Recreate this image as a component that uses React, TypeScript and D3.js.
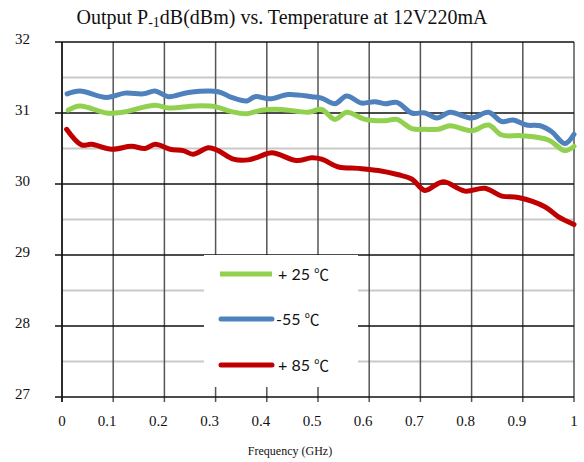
import React from "react";
import * as d3 from "d3";

// Frequency (GHz) and output P-1dB (dBm) per temperature
const freqM55 = [0.01, 0.035, 0.087, 0.123, 0.159, 0.182, 0.208, 0.247, 0.305, 0.331, 0.361, 0.377, 0.406, 0.442, 0.488, 0.507, 0.533, 0.556, 0.585, 0.611, 0.631, 0.654, 0.683, 0.709, 0.732, 0.758, 0.8, 0.833, 0.859, 0.881, 0.907, 0.934, 0.956, 0.982, 1.0];
const p1dbM55 = [31.27, 31.31, 31.22, 31.28, 31.27, 31.31, 31.23, 31.29, 31.3, 31.22, 31.17, 31.23, 31.2, 31.26, 31.23, 31.21, 31.13, 31.24, 31.14, 31.16, 31.13, 31.15, 31.0, 31.0, 30.93, 31.01, 30.93, 31.01, 30.88, 30.9, 30.83, 30.82, 30.74, 30.57, 30.7];

const freqP25 = [0.012, 0.035, 0.087, 0.117, 0.182, 0.208, 0.26, 0.299, 0.331, 0.361, 0.39, 0.429, 0.481, 0.507, 0.533, 0.556, 0.592, 0.631, 0.654, 0.683, 0.709, 0.735, 0.758, 0.8, 0.833, 0.859, 0.898, 0.95, 0.982, 1.0];
const p1dbP25 = [31.04, 31.1, 31.0, 31.01, 31.11, 31.07, 31.1, 31.09, 31.02, 30.99, 31.04, 31.05, 31.01, 31.05, 30.91, 31.01, 30.91, 30.89, 30.91, 30.78, 30.77, 30.77, 30.82, 30.75, 30.83, 30.69, 30.68, 30.62, 30.47, 30.53];

const freqP85 = [0.009, 0.038, 0.058, 0.097, 0.136, 0.162, 0.182, 0.211, 0.237, 0.256, 0.286, 0.305, 0.335, 0.364, 0.383, 0.41, 0.458, 0.488, 0.507, 0.54, 0.579, 0.618, 0.657, 0.683, 0.709, 0.735, 0.748, 0.787, 0.826, 0.859, 0.891, 0.943, 0.969, 1.0];
const p1dbP85 = [30.77, 30.55, 30.56, 30.49, 30.53, 30.5, 30.56, 30.49, 30.47, 30.42, 30.51, 30.47, 30.35, 30.34, 30.38, 30.44, 30.33, 30.37, 30.35, 30.24, 30.22, 30.19, 30.13, 30.07, 29.91, 30.01, 30.03, 29.9, 29.94, 29.83, 29.81, 29.68, 29.54, 29.43];

const xTicks = [0, 0.1, 0.2, 0.3, 0.4, 0.5, 0.6, 0.7, 0.8, 0.9, 1];
const xTickLabels = ["0", "0.1", "0.2", "0.3", "0.4", "0.5", "0.6", "0.7", "0.8", "0.9", "1"];
const yTicks = [27, 28, 29, 30, 31, 32];
const yMinor = [27.5, 28.5, 29.5, 30.5, 31.5];

const legendTemps = ["+ 25 ", "-55 ", "+ 85 "];
const legendUnit = "℃";

const W = 584;
const H = 462;
const plot = { left: 62, right: 574, top: 42, bottom: 397 };

export default function App() {
  const x = d3.scaleLinear().domain([0, 1]).range([plot.left, plot.right]);
  const y = d3.scaleLinear().domain([27, 32]).range([plot.bottom, plot.top]);

  const line = d3
    .line<[number, number]>()
    .x((d) => x(d[0]))
    .y((d) => y(d[1]))
    .curve(d3.curveCatmullRom.alpha(0.5));

  const series = [
    { name: "m55", color: "#4F81BD", pts: freqM55.map((f, i) => [f, p1dbM55[i]] as [number, number]) },
    { name: "p25", color: "#92D050", pts: freqP25.map((f, i) => [f, p1dbP25[i]] as [number, number]) },
    { name: "p85", color: "#C00000", pts: freqP85.map((f, i) => [f, p1dbP85[i]] as [number, number]) },
  ];

  const legendItems = [
    { label: legendTemps[0], color: "#92D050", cap: "butt", y: 274 },
    { label: legendTemps[1], color: "#4F81BD", cap: "round", y: 319 },
    { label: legendTemps[2], color: "#C00000", cap: "round", y: 365 },
  ];

  const serif = "'Liberation Serif', 'DejaVu Serif', serif";

  return (
    <svg width={W} height={H} style={{ position: "absolute", left: 0, top: 0, background: "#fff" }}>
      <rect x={0} y={0} width={W} height={H} fill="#fff" />
      {/* title */}
      <text x={282} y={24} textAnchor="middle" fontFamily={serif} fontSize={20} fill="#111">
        Output P
        <tspan fontSize={14} dy={3}>-1</tspan>
        <tspan dy={-3}>dB(dBm) vs. Temperature at 12V220mA</tspan>
      </text>

      {/* minor horizontal grid */}
      {yMinor.map((v) => (
        <line key={"mn" + v} x1={plot.left} x2={plot.right} y1={y(v)} y2={y(v)} stroke="#C9C9C9" strokeWidth={2} />
      ))}
      {/* vertical grid */}
      {xTicks.map((v) => (
        <line key={"vx" + v} x1={x(v)} x2={x(v)} y1={plot.top} y2={plot.bottom + 5} stroke="#555" strokeWidth={1.5} />
      ))}
      {/* major horizontal grid */}
      {yTicks.map((v) => (
        <line key={"mj" + v} x1={plot.left - 7} x2={plot.right} y1={y(v)} y2={y(v)} stroke="#111" strokeWidth={1.5} />
      ))}
      {/* y axis */}
      <line x1={plot.left} x2={plot.left} y1={plot.top} y2={plot.bottom + 5} stroke="#111" strokeWidth={1.5} />

      {/* y labels */}
      {yTicks.map((v) => (
        <text key={"yl" + v} x={30} y={y(v) + 2} textAnchor="end" fontFamily={serif} fontSize={15} fill="#111">
          {v}
        </text>
      ))}
      {/* x labels */}
      {xTicks.map((v, i) => (
        <text key={"xl" + v} x={x(v) - (i === 0 || i === 10 ? 0 : 6)} y={426} textAnchor="middle" fontFamily={serif} fontSize={15} fill="#111">
          {xTickLabels[i]}
        </text>
      ))}
      <text x={290} y={455} textAnchor="middle" fontFamily={serif} fontSize={12} fill="#111">
        Frequency (GHz)
      </text>

      {/* series */}
      {series.map((s) => (
        <path key={s.name} d={line(s.pts) || ""} fill="none" stroke={s.color} strokeWidth={5} strokeLinecap="round" strokeLinejoin="round" />
      ))}

      {/* legend */}
      <rect x={204} y={255} width={154} height={132} fill="#fff" />
      {legendItems.map((it) => (
        <g key={it.label}>
          <line x1={it.cap === "butt" ? 220 : 221} x2={272} y1={it.y} y2={it.y} stroke={it.color} strokeWidth={5} strokeLinecap={it.cap as any} />
          <text x={it.label.startsWith("-") ? 276 : 278} y={it.y + 6} fontFamily="Lato, 'Noto Sans', sans-serif" fontSize={16} fill="#111">
            {it.label}
            <tspan fontFamily="'Noto Sans CJK SC', sans-serif" fontSize={15}>{legendUnit}</tspan>
          </text>
        </g>
      ))}
    </svg>
  );
}
